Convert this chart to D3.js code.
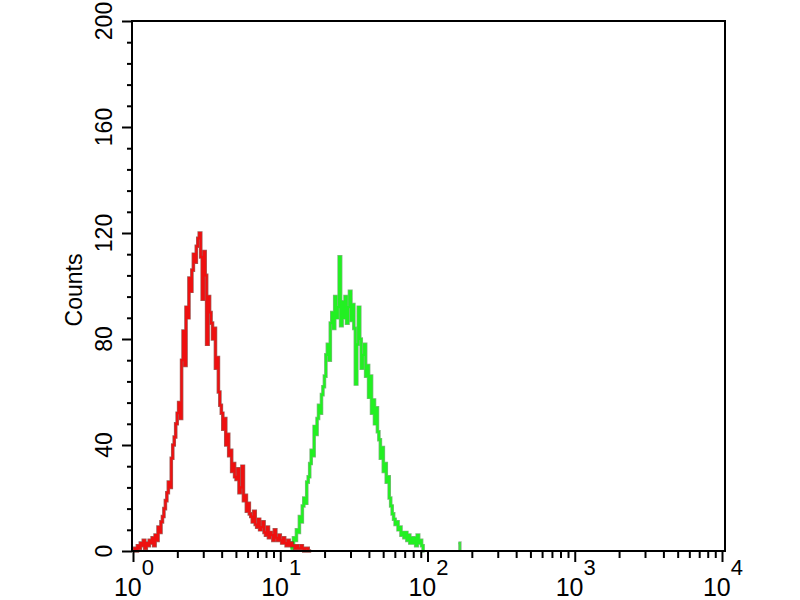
<!DOCTYPE html>
<html>
<head>
<meta charset="utf-8">
<script src="https://cdn.jsdelivr.net/npm/d3@7"></script>
<style>
  html, body { margin: 0; padding: 0; background: #fff; }
  svg { display: block; }
  text { font-family: "Liberation Sans", Arial, sans-serif; fill: #000; }
</style>
</head>
<body>
<svg id="chart" width="800" height="600"></svg>
<script>
// ---------------- data ----------------
const logStep = 0.01;              // histogram channel width in log10 units
const redLogStart = 0.00;          // first channel of the isotype (red) histogram
const redCounts = [
  0,1,0,2,1,3,2,4,1,3,
  2,4,3,5,2,6,4,9,7,11,
  13,16,19,22,26,24,35,40,43,48,
  52,56,50,72,83,70,92,88,103,98,
  106,112,109,115,118,120,111,95,113,104,
  78,96,90,86,80,84,69,73,60,55,
  52,46,50,40,44,36,38,30,33,28,
  27,31,22,24,32,19,21,15,18,14,
  13,11,15,10,9,12,8,9,11,7,
  6,9,5,7,6,4,8,5,4,6,
  4,3,5,3,2,4,2,3,2,2,
  1,2,1,1,2,1,0,1,1,0,0
];
const greenLogStart = 1.07;        // first channel of the antibody (green) histogram
const greenCounts = [
  1,3,5,
  4,8,7,13,11,17,20,18,26,28,
  33,38,36,47,44,50,55,52,59,62,
  66,74,78,72,86,90,84,96,88,92,
  111,85,94,88,96,86,92,98,87,93,
  84,63,78,92,80,69,74,78,66,70,
  58,66,52,57,48,54,45,42,35,39,
  30,33,26,28,20,17,14,12,10,11,
  8,9,6,7,5,7,4,6,3,5,
  3,5,2,6,3,4,2,0
];
const greenOutlierLogs = [2.21];
const greenOutlierCounts = [3];

const yMajorTicks = [0, 40, 80, 120, 160, 200];
const yMinorTicks = d3.range(0, 201, 8).filter(v => v % 40 !== 0);
const xDecades = [0, 1, 2, 3, 4];
const yLabel = "Counts";

// ---------------- chart ----------------
const svg = d3.select("#chart");
const plotLeft = 132, plotRight = 725, plotTop = 21, plotBottom = 551;

const x = d3.scaleLog().domain([1, 1e4]).range([133, 722]);
const y = d3.scaleLinear().domain([0, 200]).range([plotBottom, plotTop]);

function toPoints(start, counts) {
  const pts = counts.map((c, i) => [Math.pow(10, start + i * logStep), c]);
  pts.push([Math.pow(10, start + counts.length * logStep), 0]);
  return pts;
}

const line = d3.line()
  .x(d => x(d[0]))
  .y(d => y(d[1]))
  .curve(d3.curveStepAfter);

function drawHist(pts, dark, bright) {
  svg.append("path").attr("d", line(pts))
    .attr("fill", "none").attr("stroke", dark).attr("stroke-width", 3.6)
    .attr("stroke-linejoin", "miter").attr("opacity", 0.7);
  svg.append("path").attr("d", line(pts))
    .attr("fill", "none").attr("stroke", bright).attr("stroke-width", 2.2);
}

const greenPts = toPoints(greenLogStart, greenCounts);
drawHist(greenPts, "#4a9a4a", "#22f022");
greenOutlierLogs.forEach((l, i) => {
  drawHist(toPoints(l, [greenOutlierCounts[i]]), "#7a9a7a", "#44dd44");
});
const redPts = toPoints(redLogStart, redCounts);
drawHist(redPts, "#7a1a14", "#ee1010");

// frame
svg.append("rect")
  .attr("x", plotLeft).attr("y", plotTop)
  .attr("width", plotRight - plotLeft).attr("height", plotBottom - plotTop)
  .attr("fill", "none").attr("stroke", "#000").attr("stroke-width", 2);

// y axis ticks
const gy = svg.append("g").attr("transform", `translate(${plotLeft},0)`);
gy.call(d3.axisLeft(y).tickValues(yMajorTicks).tickSize(10).tickSizeOuter(0).tickFormat(""));
const gy2 = svg.append("g").attr("transform", `translate(${plotLeft},0)`);
gy2.call(d3.axisLeft(y).tickValues(yMinorTicks).tickSize(5).tickSizeOuter(0).tickFormat(""));

// x axis ticks
const xMinor = [];
xDecades.slice(0, -1).forEach(d => { for (let k = 2; k <= 9; k++) xMinor.push(k * Math.pow(10, d)); });
const gx = svg.append("g").attr("transform", `translate(0,${plotBottom})`);
gx.call(d3.axisBottom(x).tickValues(xDecades.map(d => Math.pow(10, d))).tickSize(11).tickSizeOuter(0).tickFormat(""));
const gx2 = svg.append("g").attr("transform", `translate(0,${plotBottom})`);
gx2.call(d3.axisBottom(x).tickValues(xMinor).tickSize(7).tickSizeOuter(0).tickFormat(""));

svg.selectAll(".domain").remove();
svg.selectAll(".tick line").attr("stroke", "#000").attr("stroke-width", 2);

// y tick labels (rotated)
yMajorTicks.forEach(v => {
  svg.append("text")
    .attr("transform", `translate(112,${y(v)}) rotate(-90)`)
    .attr("text-anchor", "middle")
    .attr("font-size", 23)
    .text(v);
});

// y axis title
svg.append("text")
  .attr("transform", `translate(82,290) rotate(-90)`)
  .attr("text-anchor", "middle")
  .attr("font-size", 23)
  .text(yLabel);

// x tick labels: 10^n
xDecades.forEach(d => {
  const t = svg.append("text")
    .attr("x", x(Math.pow(10, d)) + 1)
    .attr("y", 596)
    .attr("text-anchor", "middle")
    .attr("font-size", 25);
  t.append("tspan").text("10");
  t.append("tspan").attr("dy", -21).attr("font-size", 22).text(d);
});
</script>
</body>
</html>
